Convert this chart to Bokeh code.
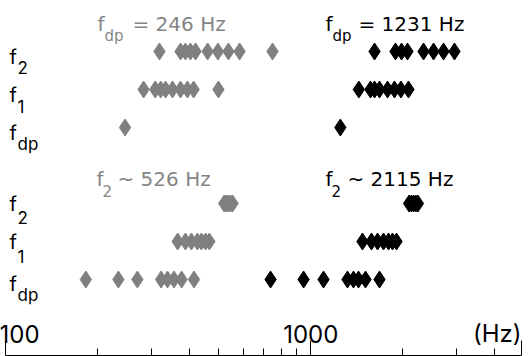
from bokeh.plotting import figure
from bokeh.models import Range1d, FixedTicker, Label, ColumnDataSource
from bokeh.embed import file_html
from bokeh.resources import INLINE

# ---------------- data (Hz) ----------------
# upper panel: f_dp fixed
top_title_grey = "246 Hz"
top_title_black = "1231 Hz"
top_grey_f2 = [319, 374, 388, 403, 419, 459, 496, 537, 584, 749]
top_grey_f1 = [283, 309, 322, 334, 352, 374, 394, 413, 498]
top_grey_fdp = [246]
top_black_f2 = [1618, 1895, 1984, 2075, 2342, 2526, 2724, 2959]
top_black_f1 = [1437, 1569, 1618, 1680, 1785, 1881, 1975, 2091]
top_black_fdp = [1250]

# lower panel: f2 fixed
bot_title_grey = "526 Hz"
bot_title_black = "2115 Hz"
bot_grey_f2 = [520, 528, 536, 545, 554]
bot_grey_f1 = [366, 388, 406, 425, 438, 452, 465]
bot_grey_fdp = [183, 234, 270, 323, 339, 356, 377, 414]
bot_black_f2 = [2100, 2135, 2170, 2210, 2245]
bot_black_f1 = [1477, 1581, 1655, 1731, 1798, 1853, 1910]
bot_black_fdp = [738, 947, 1101, 1319, 1380, 1433, 1511, 1680]

major_ticks = [100, 1000, 4900]
minor_ticks = [200, 300, 400, 500, 600, 700, 800, 900, 2000, 3000, 4000]
tick_labels = ["100", "1000"]
unit_label = "(Hz)"

# row levels
LEV_TOP = {"f2": 6, "f1": 5, "fdp": 4}
LEV_BOT = {"f2": 2, "f1": 1, "fdp": 0}

# ---------------- layout ----------------
GREY = "#808080"
GREY_TXT = "#858585"
FONT = "Inter"
TFONT = "DejaVu Sans"
W, H = 528, 356
FRAME_H = H - 1
PX_DEC = 305.0
X100 = 5.3
x_start = 10 ** (2 - X100 / PX_DEC)
x_end = 10 ** (2 + (W - X100) / PX_DEC)
ROW = 38.0
BASE = 279.0


def lev(px):
    return (BASE - px) / ROW


def fx(px):
    return 10 ** (2 + (px - X100) / PX_DEC)


p = figure(width=W, height=H, x_axis_type="log",
           x_range=Range1d(x_start, x_end), y_range=Range1d(lev(FRAME_H), lev(0)),
           output_backend="svg", toolbar_location=None, min_border=0,
           min_border_bottom=1, y_axis_location=None)
p.grid.visible = False
p.outline_line_color = None
p.background_fill_color = "white"
p.border_fill_color = "white"

ax = p.xaxis[0]
ax.ticker = FixedTicker(ticks=major_ticks, minor_ticks=minor_ticks)
ax.bounds = (major_ticks[0], major_ticks[-1])
ax.major_tick_in = 15
ax.major_tick_out = 0
ax.minor_tick_in = 7
ax.minor_tick_out = 0
ax.major_label_text_font_size = "1px"
ax.major_label_text_color = None
ax.major_label_standoff = 0
ax.axis_line_color = "black"
ax.axis_line_width = 1
ax.major_tick_line_color = "black"
ax.minor_tick_line_color = "black"


def series(xs, level, color):
    src = ColumnDataSource(dict(x=xs, y=[level] * len(xs)))
    p.scatter("x", "y", source=src, marker="diamond", size=17,
              fill_color=color, line_color=color, line_width=1)


series(top_grey_f2, LEV_TOP["f2"], GREY)
series(top_grey_f1, LEV_TOP["f1"], GREY)
series(top_grey_fdp, LEV_TOP["fdp"], GREY)
series(top_black_f2, LEV_TOP["f2"], "black")
series(top_black_f1, LEV_TOP["f1"], "black")
series(top_black_fdp, LEV_TOP["fdp"], "black")
series(bot_grey_f2, LEV_BOT["f2"], GREY)
series(bot_grey_f1, LEV_BOT["f1"], GREY)
series(bot_grey_fdp, LEV_BOT["fdp"], GREY)
series(bot_black_f2, LEV_BOT["f2"], "black")
series(bot_black_f1, LEV_BOT["f1"], "black")
series(bot_black_fdp, LEV_BOT["fdp"], "black")


def txt(text, x_px, y_px, size, color="black", align="left", xdata=None, font=FONT):
    x = xdata if xdata is not None else fx(x_px)
    p.add_layout(Label(x=x, y=lev(y_px), text=text, text_font=font,
                       text_font_size=f"{size}px", text_color=color,
                       text_baseline="alphabetic", text_align=align))


# titles
txt("f", 97, 23, 20, GREY_TXT, font=TFONT)
txt("dp", 104, 35, 15, GREY_TXT, font=TFONT)
txt("= " + top_title_grey, 132, 23, 20, GREY_TXT, font=TFONT)
txt("f", 325, 23, 20, font=TFONT)
txt("dp", 332, 35, 15, font=TFONT)
txt("= " + top_title_black, 358, 23, 20, font=TFONT)

txt("f", 96, 178, 20, GREY_TXT, font=TFONT)
txt("2", 102, 190, 15, GREY_TXT, font=TFONT)
txt("~ " + bot_title_grey, 117, 178, 20, GREY_TXT, font=TFONT)
txt("f", 325, 178, 20, font=TFONT)
txt("2", 331, 190, 15, font=TFONT)
txt("~ " + bot_title_black, 347, 178, 20, font=TFONT)

# row labels
for main_px, sub_px, sub in [(56, 67, "2"), (94, 106, "1"), (132, 143, "dp"),
                             (203, 217, "2"), (241, 256, "1"), (283, 294, "dp")]:
    txt("f", 9, main_px, 20)
    txt(sub, 17, sub_px, 17)

# axis labels
txt(tick_labels[0], -1, 333, 24)
txt(tick_labels[1], None, 333, 24, align="center", xdata=major_ticks[1])
txt(unit_label, 521, 333, 24, align="right")

open("out.html", "w").write(file_html(p, INLINE))
